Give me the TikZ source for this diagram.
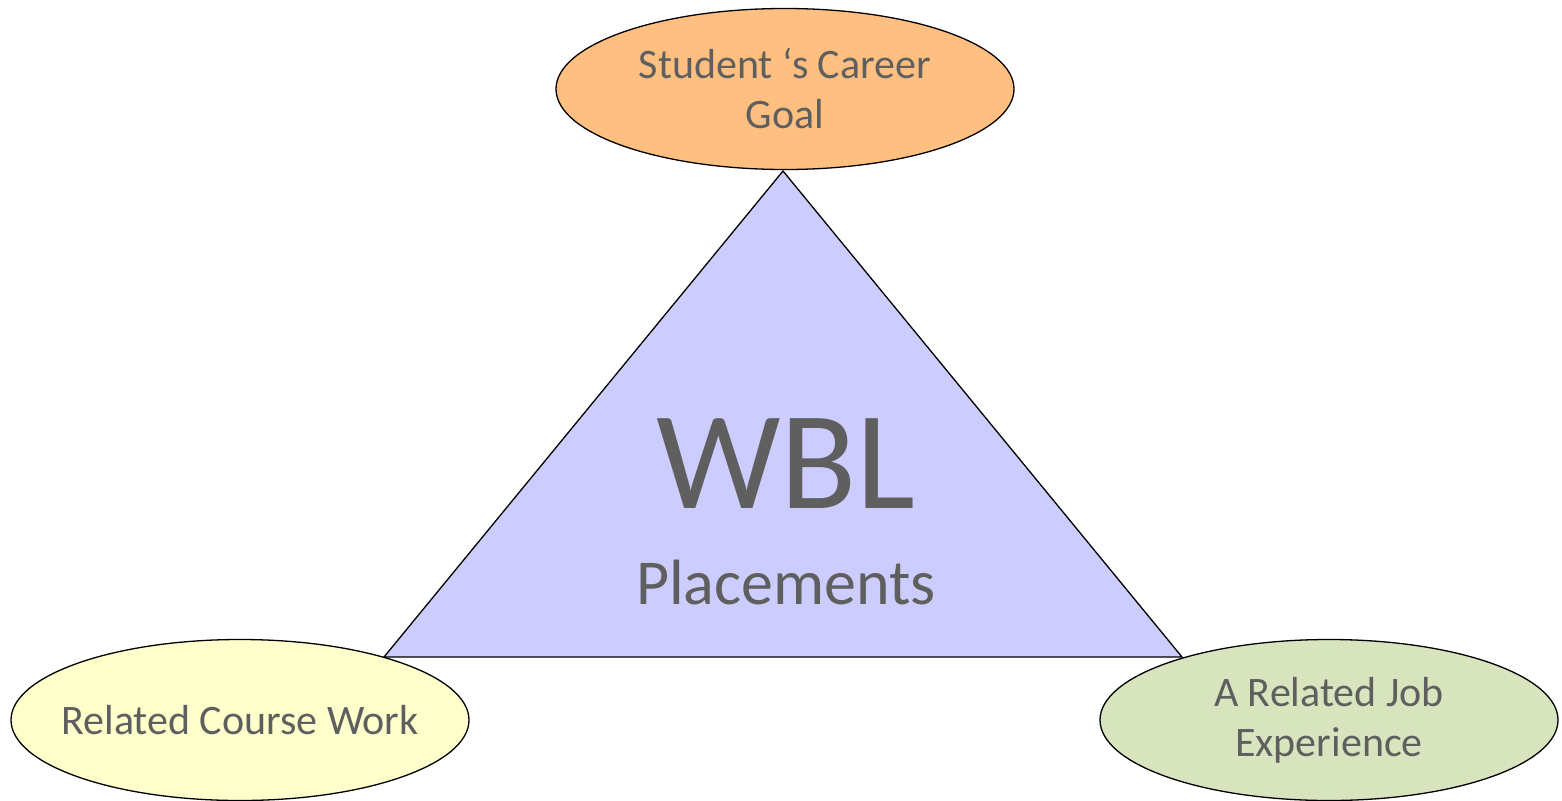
\documentclass[tikz,border=0pt]{standalone}
\usepackage{fontspec}
\setmainfont{Carlito}
\usetikzlibrary{shapes.geometric}
\definecolor{txt}{HTML}{5F5F5F}
\definecolor{orangefill}{HTML}{FFBF80}
\definecolor{yellowfill}{HTML}{FFFFCC}
\definecolor{greenfill}{HTML}{D7E4BD}
\definecolor{trifill}{HTML}{CCCCFF}
\tikzset{
  oval/.style={ellipse, draw=black, line width=1.3pt, minimum width=458pt, minimum height=161pt, inner sep=0pt},
  ovaltext/.style={text=txt, inner sep=0pt, align=center, font=\fontsize{42}{50}\selectfont},
  tri/.style={draw=black, line width=1.3pt, fill=trifill, line join=miter},
  label/.style={text=txt, inner sep=0pt, anchor=base}
}
\begin{document}
\begin{tikzpicture}[x=1pt,y=-1pt]
\useasboundingbox (0,0) rectangle (1562,800);
\coordinate (apex) at (783,171);
\coordinate (bl) at (384,657);
\coordinate (br) at (1182,657);
\draw[tri] (apex) -- (br) -- (bl) -- cycle;
\node[oval, fill=orangefill] (goal) at (785,89) {};
\node[oval, fill=yellowfill] (course) at (240,720) {};
\node[oval, fill=greenfill] (job) at (1329,720) {};
\node[ovaltext] (goaltext) at (goal.center) {Student ‘s Career\\Goal};
\node[ovaltext] (coursetext) at (course.center) {Related Course Work};
\node[ovaltext] (jobtext) at (job.center) {A Related Job\\Experience};
\node[label, font=\fontsize{140}{140}\selectfont] (wbl) at (786,508) {WBL};
\node[label, font=\fontsize{64}{64}\selectfont] (place) at (786,604) {Placements};
\end{tikzpicture}
\end{document}
